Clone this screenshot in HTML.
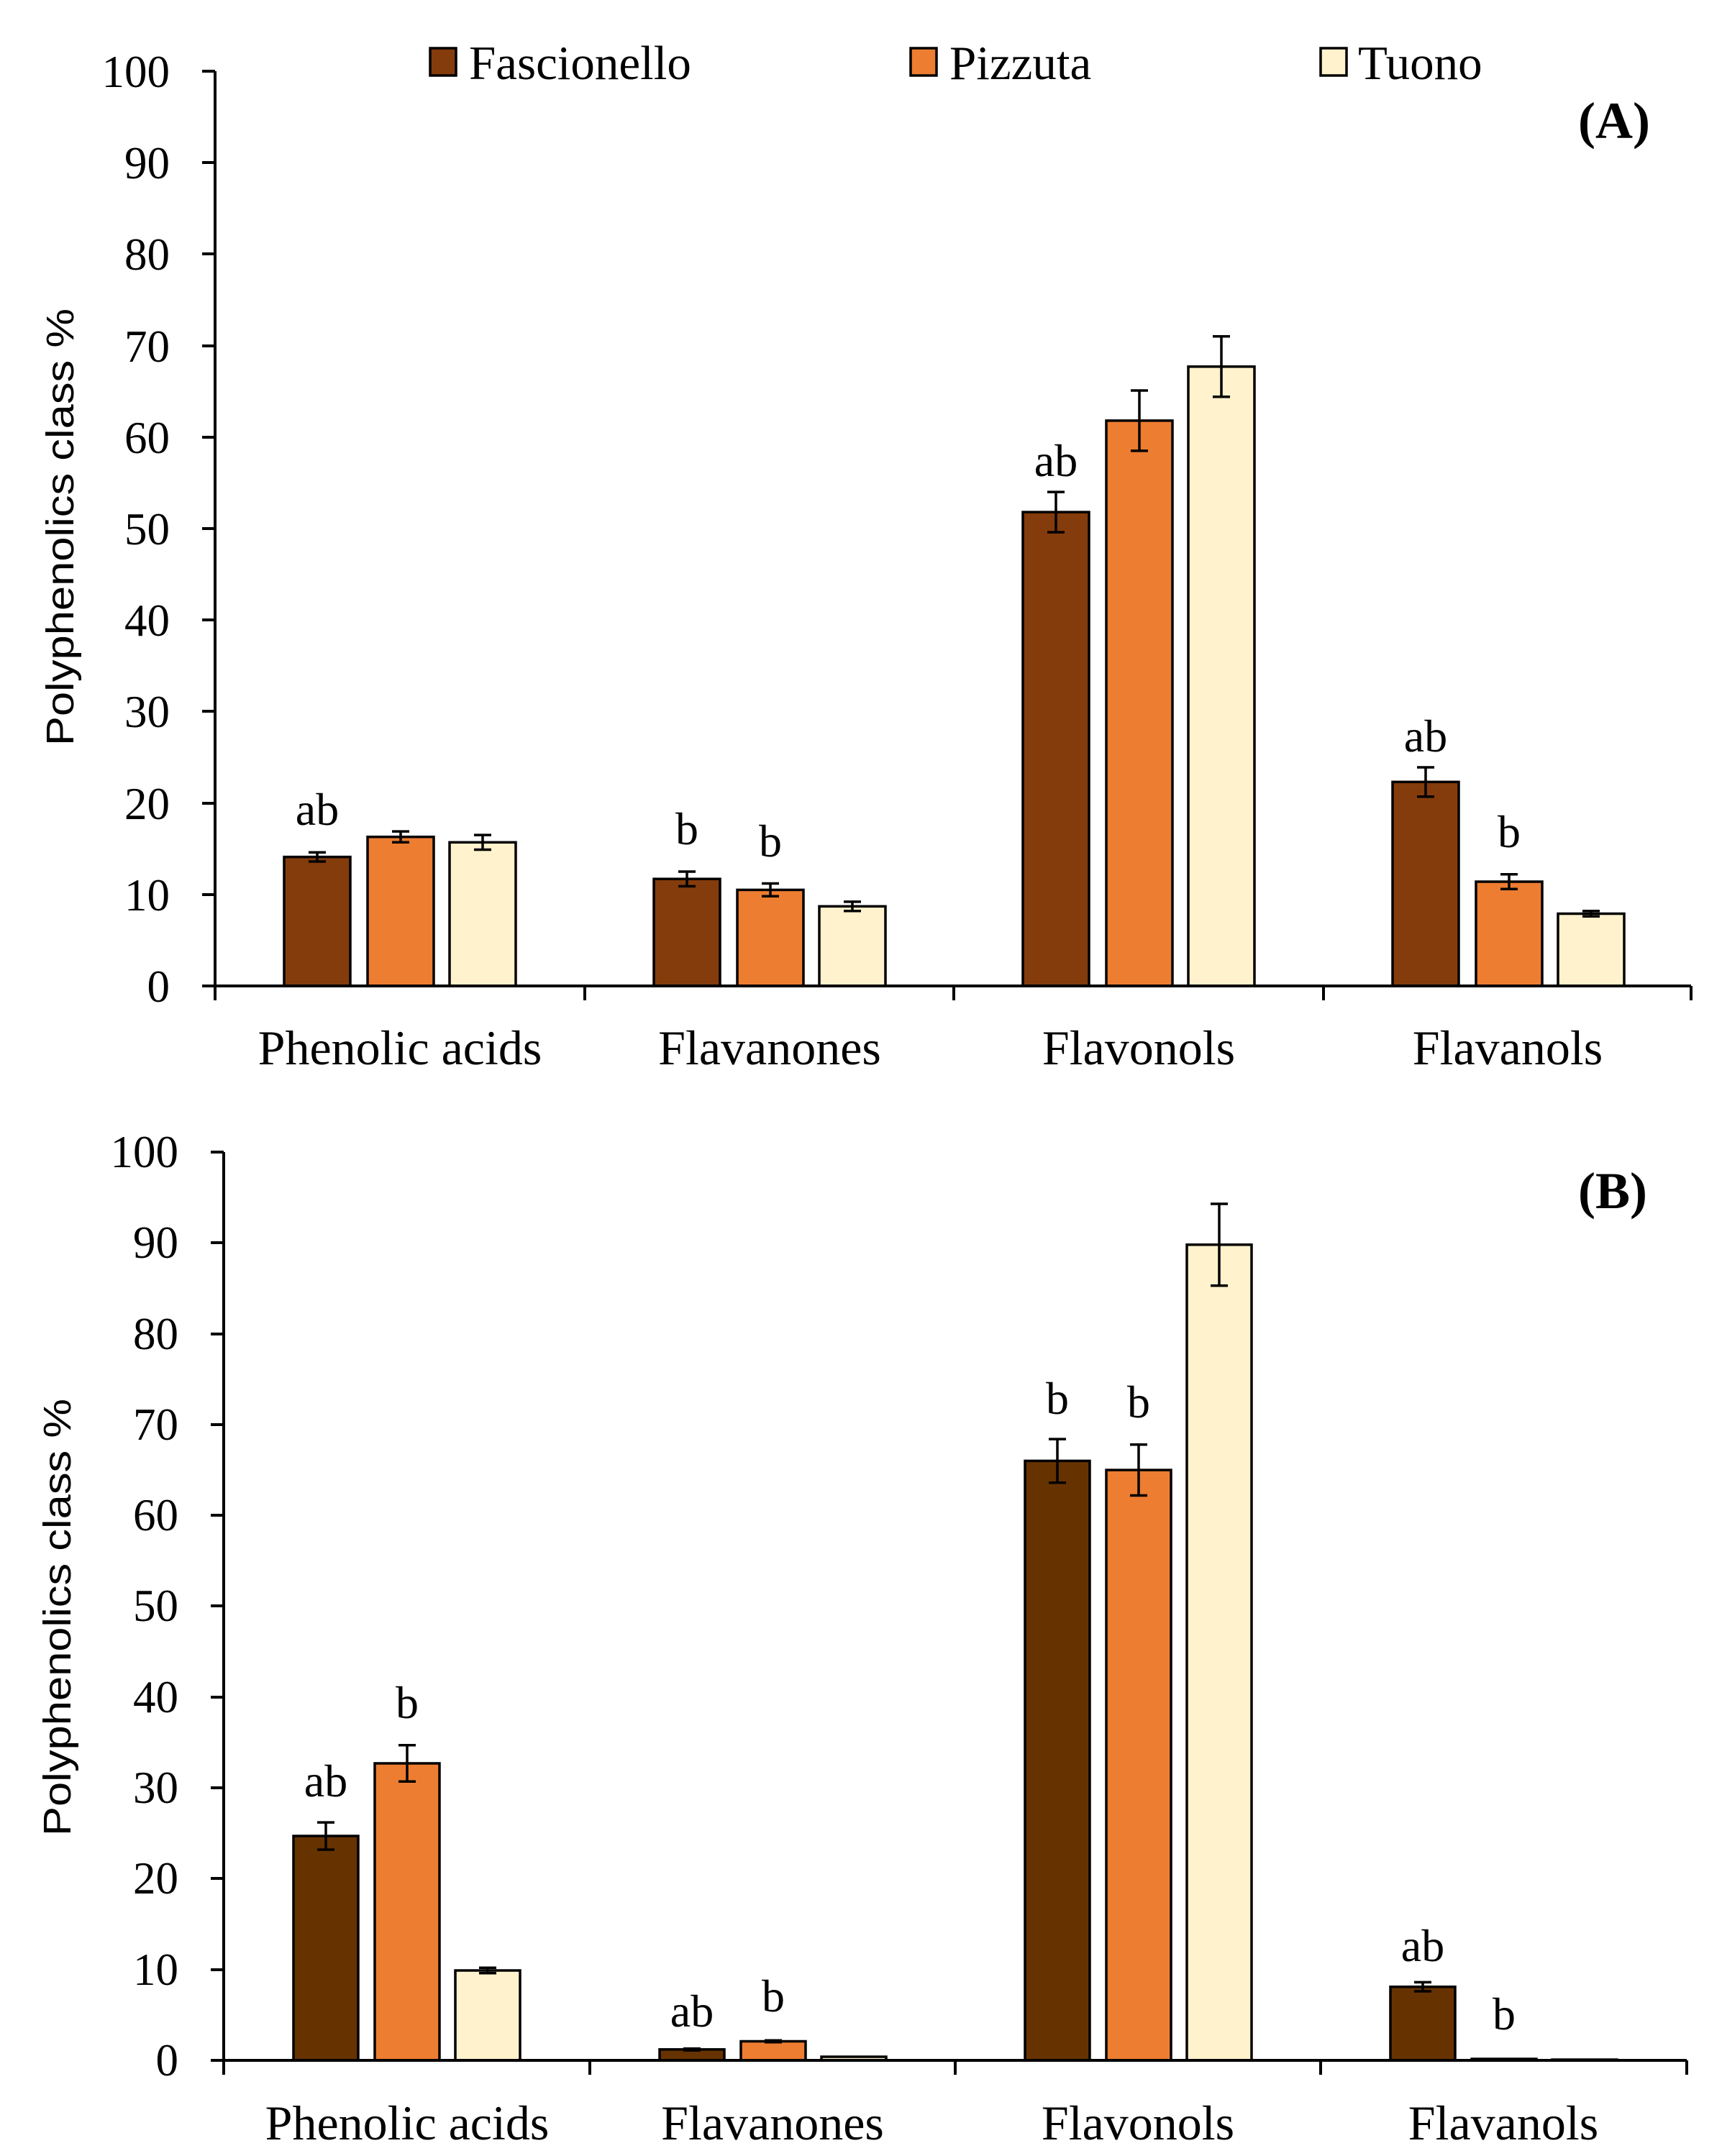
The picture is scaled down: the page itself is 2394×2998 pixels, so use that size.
<!DOCTYPE html>
<html><head><meta charset="utf-8"><style>html,body{margin:0;padding:0;background:#fff}svg{display:block}</style></head>
<body>
<svg xmlns="http://www.w3.org/2000/svg" width="2394" height="2998" viewBox="0 0 2394 2998">
<rect width="2394" height="2998" fill="#fff"/>
<g stroke="#000" stroke-width="3.5">
<rect x="395" y="1191.6" width="92" height="179.4" fill="#843C0C"/>
<rect x="511" y="1163.7" width="92" height="207.3" fill="#ED7D31"/>
<rect x="625" y="1171.3" width="92" height="199.7" fill="#FFF2CC"/>
<rect x="909" y="1222.2" width="92" height="148.8" fill="#843C0C"/>
<rect x="1025" y="1237.4" width="92" height="133.6" fill="#ED7D31"/>
<rect x="1139" y="1260.3" width="92" height="110.7" fill="#FFF2CC"/>
<rect x="1422" y="712.1" width="92" height="658.9" fill="#843C0C"/>
<rect x="1538" y="584.9" width="92" height="786.1" fill="#ED7D31"/>
<rect x="1652" y="509.8" width="92" height="861.2" fill="#FFF2CC"/>
<rect x="1936" y="1087.3" width="92" height="283.7" fill="#843C0C"/>
<rect x="2052" y="1226" width="92" height="145" fill="#ED7D31"/>
<rect x="2166" y="1270.5" width="92" height="100.5" fill="#FFF2CC"/>
<rect x="408" y="2553" width="90" height="312" fill="#663300"/>
<rect x="521" y="2452" width="90" height="413" fill="#ED7D31"/>
<rect x="633" y="2740" width="90" height="125" fill="#FFF2CC"/>
<rect x="917" y="2849.8" width="90" height="15.2" fill="#663300"/>
<rect x="1030" y="2838.5" width="90" height="26.5" fill="#ED7D31"/>
<rect x="1142" y="2860" width="90" height="5" fill="#FFF2CC"/>
<rect x="1425" y="2031.4" width="90" height="833.6" fill="#663300"/>
<rect x="1538" y="2044.1" width="90" height="820.9" fill="#ED7D31"/>
<rect x="1650" y="1730.8" width="90" height="1134.2" fill="#FFF2CC"/>
<rect x="1933" y="2762.7" width="90" height="102.3" fill="#663300"/>
<rect x="2046" y="2863" width="90" height="2" fill="#ED7D31"/>
<rect x="2158" y="2864" width="90" height="1" fill="#FFF2CC"/>
<rect x="598" y="67" width="36" height="38" fill="#843C0C"/>
<rect x="1266" y="67" width="36" height="38" fill="#ED7D31"/>
<rect x="1836" y="67" width="36" height="38" fill="#FFF2CC"/>
</g>
<g stroke="#000" stroke-width="3.5" fill="none">
<path d="M429 1185.2h24M441 1185.2V1198M429 1198h24"/>
<path d="M545 1156.1h24M557 1156.1V1171.3M545 1171.3h24"/>
<path d="M659 1161.1h24M671 1161.1V1181.5M659 1181.5h24"/>
<path d="M943 1212h24M955 1212V1232.4M943 1232.4h24"/>
<path d="M1059 1228.5h24M1071 1228.5V1246.3M1059 1246.3h24"/>
<path d="M1173 1253.9h24M1185 1253.9V1266.7M1173 1266.7h24"/>
<path d="M1456 684.1h24M1468 684.1V740.1M1456 740.1h24"/>
<path d="M1572 543h24M1584 543V626.9M1572 626.9h24"/>
<path d="M1686 467.8h24M1698 467.8V551.8M1686 551.8h24"/>
<path d="M1970 1067h24M1982 1067V1107.7M1970 1107.7h24"/>
<path d="M2086 1215.8h24M2098 1215.8V1236.2M2086 1236.2h24"/>
<path d="M2200 1266.7h24M2212 1266.7V1274.3M2200 1274.3h24"/>
<path d="M441 2534.1h24M453 2534.1V2572M441 2572h24"/>
<path d="M554 2426.7h24M566 2426.7V2477.3M554 2477.3h24"/>
<path d="M666 2736.2h24M678 2736.2V2743.8M666 2743.8h24"/>
<path d="M950 2848.6h24M950 2851.1h24"/>
<path d="M1063 2837.2h24M1063 2839.8h24"/>
<path d="M1458 2001.1h24M1470 2001.1V2061.7M1458 2061.7h24"/>
<path d="M1571 2008.7h24M1583 2008.7V2079.5M1571 2079.5h24"/>
<path d="M1683 1674h24M1695 1674V1787.7M1683 1787.7h24"/>
<path d="M1966 2756.4h24M1978 2756.4V2769M1966 2769h24"/>
</g>
<g stroke="#000" stroke-width="4" fill="none">
<path d="M299 99V1391M299 1371H2351"/>
<path d="M281 1371h18M281 1244h18M281 1117h18M281 989h18M281 862h18M281 735h18M281 608h18M281 481h18M281 353h18M281 226h18M281 99h18"/>
<path d="M813 1371v20M1326 1371v20M1840 1371v20M2351 1371v20"/>
<path d="M311 1602V2885M311 2865H2345"/>
<path d="M293 2865h18M293 2739h18M293 2612h18M293 2486h18M293 2360h18M293 2233h18M293 2107h18M293 1981h18M293 1855h18M293 1728h18M293 1602h18"/>
<path d="M820 2865v20M1328 2865v20M1836 2865v20M2345 2865v20"/>
</g>
<g font-family="Liberation Serif, serif" font-size="63" fill="#000">
<g text-anchor="end">
<text x="236" y="1393">0</text><text x="236" y="1266">10</text><text x="236" y="1139">20</text><text x="236" y="1011">30</text><text x="236" y="884">40</text><text x="236" y="757">50</text><text x="236" y="630">60</text><text x="236" y="503">70</text><text x="236" y="375">80</text><text x="236" y="248">90</text><text x="236" y="121">100</text>
<text x="248" y="2886">0</text><text x="248" y="2760">10</text><text x="248" y="2633">20</text><text x="248" y="2507">30</text><text x="248" y="2381">40</text><text x="248" y="2254">50</text><text x="248" y="2128">60</text><text x="248" y="2002">70</text><text x="248" y="1876">80</text><text x="248" y="1749">90</text><text x="248" y="1623">100</text>
</g>
<g text-anchor="middle" font-size="68">
<text x="556" y="1480">Phenolic acids</text><text x="1070" y="1480">Flavanones</text><text x="1583" y="1480">Flavonols</text><text x="2096" y="1480">Flavanols</text>
<text x="566" y="2975">Phenolic acids</text><text x="1074" y="2975">Flavanones</text><text x="1582" y="2975">Flavonols</text><text x="2090" y="2975">Flavanols</text>
</g>
<g text-anchor="middle" font-size="64">
<text x="441" y="1147">ab</text><text x="955" y="1174">b</text><text x="1071" y="1191">b</text><text x="1468" y="662">ab</text><text x="1982" y="1045">ab</text><text x="2098" y="1178">b</text>
<text x="453" y="2498">ab</text><text x="566" y="2389">b</text><text x="962" y="2818">ab</text><text x="1075" y="2797">b</text><text x="1470" y="1966">b</text><text x="1583" y="1971">b</text><text x="1978" y="2727">ab</text><text x="2091" y="2822">b</text>
</g>
<g font-size="67">
<text x="652" y="110">Fascionello</text><text x="1320" y="110">Pizzuta</text><text x="1888" y="110">Tuono</text>
</g>
<g font-weight="bold" font-size="72" text-anchor="end">
<text x="2294" y="192">(A)</text><text x="2290" y="1680">(B)</text>
</g>
</g>
<g font-family="Liberation Sans, sans-serif" font-size="54" fill="#000" text-anchor="middle">
<text transform="translate(102,733) rotate(-90)" textLength="608" lengthAdjust="spacingAndGlyphs">Polyphenolics class %</text>
<text transform="translate(98,2249) rotate(-90)" textLength="608" lengthAdjust="spacingAndGlyphs">Polyphenolics class %</text>
</g>
</svg>
</body></html>
